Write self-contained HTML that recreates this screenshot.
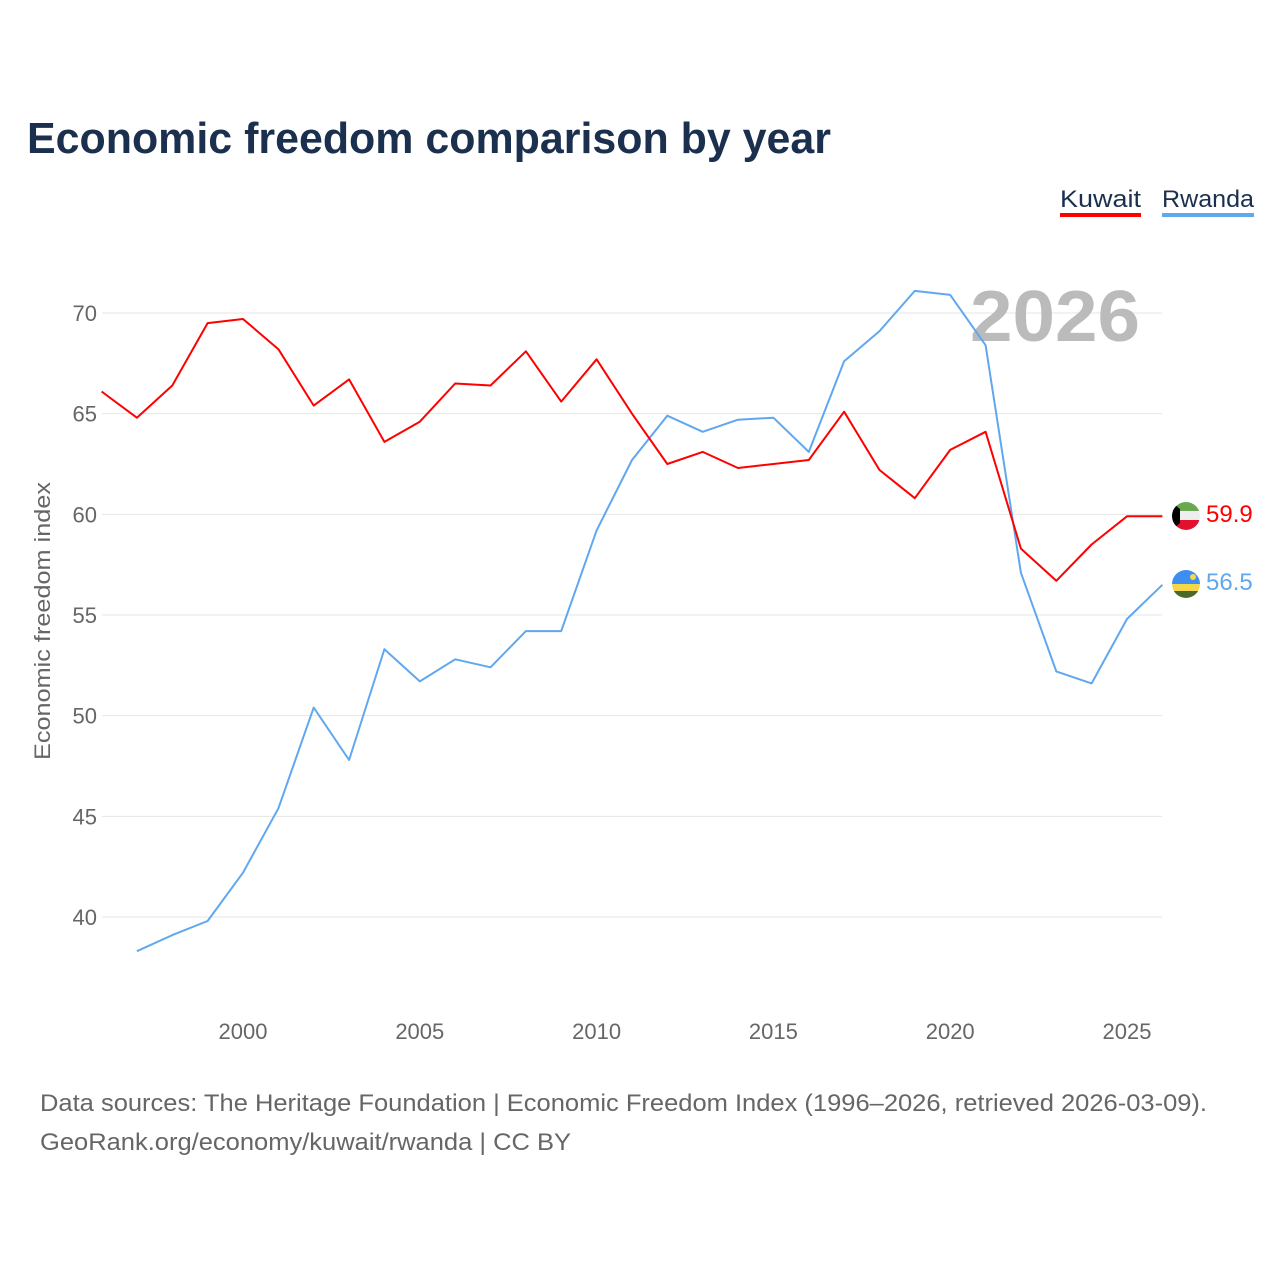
<!DOCTYPE html>
<html><head><meta charset="utf-8"><style>
body{margin:0;background:#fff;font-family:"Liberation Sans",sans-serif}
svg text{font-family:"Liberation Sans",sans-serif}
</style></head><body>
<svg width="1280" height="1280">
<text x="27" y="153" font-size="44" font-weight="bold" fill="#1b2f4e" textLength="804" lengthAdjust="spacingAndGlyphs">Economic freedom comparison by year</text>
<g>
<text x="1060" y="207" font-size="24" fill="#1b2f4e" textLength="81" lengthAdjust="spacingAndGlyphs">Kuwait</text>
<rect x="1060" y="213" width="81" height="4" fill="#f00"/>
<text x="1162" y="207" font-size="24" fill="#1b2f4e" textLength="92" lengthAdjust="spacingAndGlyphs">Rwanda</text>
<rect x="1162" y="213" width="92" height="4" fill="#5fa8f0"/>
</g>
<g id="grid"></g>
<text x="970" y="341" font-size="72" font-weight="bold" fill="#bbb" textLength="170" lengthAdjust="spacingAndGlyphs">2026</text>
<text transform="translate(50,621) rotate(-90)" font-size="22" fill="#666" text-anchor="middle" textLength="278" lengthAdjust="spacingAndGlyphs">Economic freedom index</text>
<g id="lines"></g>
<g>
<defs><clipPath id="c1"><circle cx="1186" cy="516" r="14"/></clipPath><clipPath id="c2"><circle cx="1186" cy="584" r="14"/></clipPath></defs>
<g clip-path="url(#c1)"><rect x="1172" y="502" width="28" height="10" fill="#6aa84f"/><rect x="1172" y="511" width="28" height="10" fill="#eee"/><rect x="1172" y="520" width="28" height="10" fill="#e0102e"/><polygon points="1172,502 1180,509 1180,523 1172,530" fill="#000"/></g>
<g clip-path="url(#c2)"><rect x="1172" y="570" width="28" height="14" fill="#3d8ef0"/><rect x="1172" y="584" width="28" height="7" fill="#f5d84a"/><rect x="1172" y="591" width="28" height="8" fill="#4a6a2a"/><circle cx="1193" cy="577" r="3" fill="#f5d84a"/></g>
<text x="1206" y="522" font-size="24" fill="#f00">59.9</text>
<text x="1206" y="590" font-size="24" fill="#5fa8f0">56.5</text>
</g>
<text x="40" y="1111" font-size="24" fill="#666" textLength="1167" lengthAdjust="spacingAndGlyphs">Data sources: The Heritage Foundation | Economic Freedom Index (1996–2026, retrieved 2026-03-09).</text>
<text x="40" y="1150" font-size="24" fill="#666" textLength="531" lengthAdjust="spacingAndGlyphs">GeoRank.org/economy/kuwait/rwanda | CC BY</text>
</svg>
<script>
const years=[1996,1997,1998,1999,2000,2001,2002,2003,2004,2005,2006,2007,2008,2009,2010,2011,2012,2013,2014,2015,2016,2017,2018,2019,2020,2021,2022,2023,2024,2025,2026];
const kuwait=[66.1,64.8,66.4,69.5,69.7,68.2,65.4,66.7,63.6,64.6,66.5,66.4,68.1,65.6,67.7,65.0,62.5,63.1,62.3,62.5,62.7,65.1,62.2,60.8,63.2,64.1,58.3,56.7,58.5,59.9,59.9];
const rwanda=[null,38.3,39.1,39.8,42.2,45.4,50.4,47.8,53.3,51.7,52.8,52.4,54.2,54.2,59.2,62.7,64.9,64.1,64.7,64.8,63.1,67.6,69.1,71.1,70.9,68.4,57.1,52.2,51.6,54.8,56.5];
const yTicks=[40,45,50,55,60,65,70];
const xTicks=[2000,2005,2010,2015,2020,2025];
const NS='http://www.w3.org/2000/svg';
const X=y=>243+(y-2000)*35.36, Y=v=>313+(70-v)*20.133;
const grid=document.getElementById('grid'), lines=document.getElementById('lines');
function mk(t,a,p){const e=document.createElementNS(NS,t);for(const k in a)e.setAttribute(k,a[k]);p.appendChild(e);return e;}
yTicks.forEach(v=>{
const l=mk('line',{x1:102,x2:1162,y1:Y(v),y2:Y(v),stroke:'#e6e6e6'},grid);


const t=mk('text',{x:97,y:Y(v)+8,'font-size':22,fill:'#666','text-anchor':'end'},grid);t.textContent=v;


});
xTicks.forEach(v=>{
const t=mk('text',{x:X(v),y:1039,'font-size':22,fill:'#666','text-anchor':'middle'},grid);t.textContent=v;


});
function draw(vals,col,name){
const pts=[];vals.forEach((v,i)=>{if(v!=null)pts.push(X(years[i]).toFixed(1)+','+Y(v).toFixed(1));});
const p=mk('polyline',{points:pts.join(' '),fill:'none',stroke:col,'stroke-width':2,'stroke-linejoin':'round'},lines);


}
draw(rwanda,'#5fa8f0','rwanda-line');
draw(kuwait,'#f00','kuwait-line');
</script>
</body></html>
